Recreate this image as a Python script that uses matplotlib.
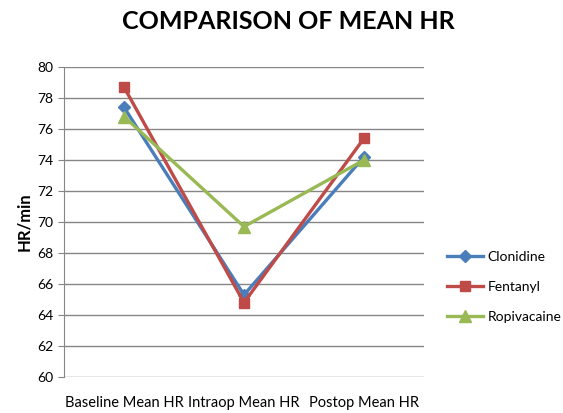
import matplotlib.pyplot as plt

categories = ['Baseline Mean HR', 'Intraop Mean HR', 'Postop Mean HR']
clonidine = [77.4, 65.3, 74.2]
fentanyl = [78.7, 64.8, 75.4]
ropivacaine = [76.8, 69.7, 74.0]

plt.rcParams['font.family'] = ['Lato', 'DejaVu Sans']

fig = plt.figure(figsize=(5.63, 4.13), dpi=100)
ax = fig.add_axes([0.1137, 0.0872, 0.6394, 0.7506])

x = range(len(categories))
ax.plot(x, clonidine, color='#4A7EBB', lw=2.4, marker='D', ms=6, label='Clonidine')
ax.plot(x, fentanyl, color='#BE4B48', lw=2.4, marker='s', ms=7.5, label='Fentanyl')
ax.plot(x, ropivacaine, color='#98B954', lw=2.4, marker='^', ms=8, label='Ropivacaine')

ax.set_xlim(-0.5, 2.5)
ax.set_ylim(60, 80)
ax.set_yticks(range(60, 81, 2))
ax.set_xticks(list(x))
ax.set_xticklabels(categories, fontsize=10.5)
ax.tick_params(axis='x', length=0, pad=14)
ax.tick_params(axis='y', length=4, color='#868686', labelsize=10)
ax.grid(axis='y', color='#868686', lw=1)
ax.set_axisbelow(True)
for s in ['top', 'right', 'bottom']:
    ax.spines[s].set_visible(False)
ax.spines['left'].set_color('#868686')

ax.set_ylabel('HR/min', fontsize=12, fontweight='bold')
fig.suptitle('COMPARISON OF MEAN HR', fontsize=18, fontweight='bold', x=0.512, y=0.975)

ax.legend(loc='center left', bbox_to_anchor=(1.03, 0.29), frameon=False,
          fontsize=10, handlelength=2.6, labelspacing=1.3, handletextpad=0.3)

fig.savefig('out.png', dpi=100)
